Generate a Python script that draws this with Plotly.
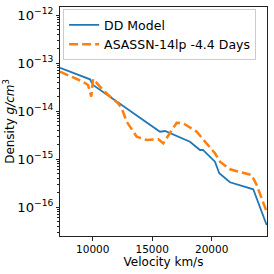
import plotly.graph_objects as go

# DD Model (velocity km/s, log10 density)
dd_vel = [7250, 9773, 10025, 12966, 15655, 16075, 16915, 18176, 19016, 19268, 20276, 20638, 21537, 23495, 24620]
dd_logrho = [-13.098, -13.340, -13.458, -13.958, -14.431, -14.417, -14.50, -14.64, -14.8125, -14.81, -15.056, -15.298, -15.485, -15.631, -16.375]

# ASASSN-14lp -4.4 Days
as_vel = [7252, 9185, 9605, 9882, 10025, 11008, 12126, 12437, 12857, 13697, 14538, 15512, 15932, 16496, 17059, 17613, 18739, 20277, 20697, 21537, 23361, 23781, 24621]
as_logrho = [-13.181, -13.390, -13.458, -13.702, -13.333, -13.598, -13.840, -13.944, -14.223, -14.535, -14.604, -14.590, -14.673, -14.465, -14.244, -14.256, -14.431, -14.881, -15.056, -15.215, -15.333, -15.542, -16.098]

x_ticks = [10000, 15000, 20000]
y_decades = [-17, -16, -15, -14, -13, -12]

dd_rho = [10 ** v for v in dd_logrho]
as_rho = [10 ** v for v in as_logrho]
minor_vals = [m * 10.0 ** e for e in y_decades for m in range(2, 10)]

yrange = [-16.604, -11.833]

fig = go.Figure()
fig.add_trace(go.Scatter(x=dd_vel, y=dd_rho, mode="lines", name="DD Model",
                         line=dict(color="#1f77b4", width=1.8)))
fig.add_trace(go.Scatter(x=as_vel, y=as_rho, mode="lines", name="ASASSN-14lp -4.4 Days",
                         line=dict(color="#ff7f0e", width=2.5, dash="9px,4px")))
# invisible helper trace carrying the minor-tick axis
fig.add_trace(go.Scatter(x=dd_vel, y=dd_rho, mode="lines", yaxis="y2", showlegend=False,
                         hoverinfo="skip", line=dict(color="rgba(0,0,0,0)", width=0)))

font = "DejaVu Sans"
fig.update_layout(
    width=274, height=274,
    margin=dict(l=60, r=7, t=7, b=38),
    paper_bgcolor="white", plot_bgcolor="white",
    font=dict(family=font, color="black", size=10),
    showlegend=True,
    legend=dict(x=0.015, y=0.99, xanchor="left", yanchor="top",
                bordercolor="#cccccc", borderwidth=1, bgcolor="rgba(255,255,255,0.8)",
                font=dict(size=12.5, family=font)),
    yaxis2=dict(type="log", range=yrange, overlaying="y", side="left",
                tickvals=minor_vals, ticktext=[""] * len(minor_vals),
                ticks="outside", ticklen=2, tickcolor="#222", showgrid=False,
                zeroline=False, showline=False, automargin=False),
)
fig.update_xaxes(
    range=[7250, 24650], tickvals=x_ticks, ticktext=[str(t) for t in x_ticks],
    showgrid=False, zeroline=False, showline=True, linecolor="#222", linewidth=1, mirror=True,
    ticks="outside", ticklen=3.5, tickcolor="#222", automargin=False,
    title=dict(text="Velocity km/s", font=dict(size=12, family=font), standoff=0),
    tickfont=dict(size=10.5),
)
fig.update_layout(yaxis=dict(
    type="log", range=yrange, dtick=1, exponentformat="power",
    showgrid=False, zeroline=False, showline=True, linecolor="#222", linewidth=1, mirror=True,
    ticks="outside", ticklen=3.5, tickcolor="#222", automargin=False,
    title=dict(text="Density <i>g/cm</i><sup>3</sup>", font=dict(size=12, family=font), standoff=0),
    tickfont=dict(size=10.5),
))
fig.write_html("out.html", config={"displayModeBar": False},
               post_script="document.body.style.margin='0';")
